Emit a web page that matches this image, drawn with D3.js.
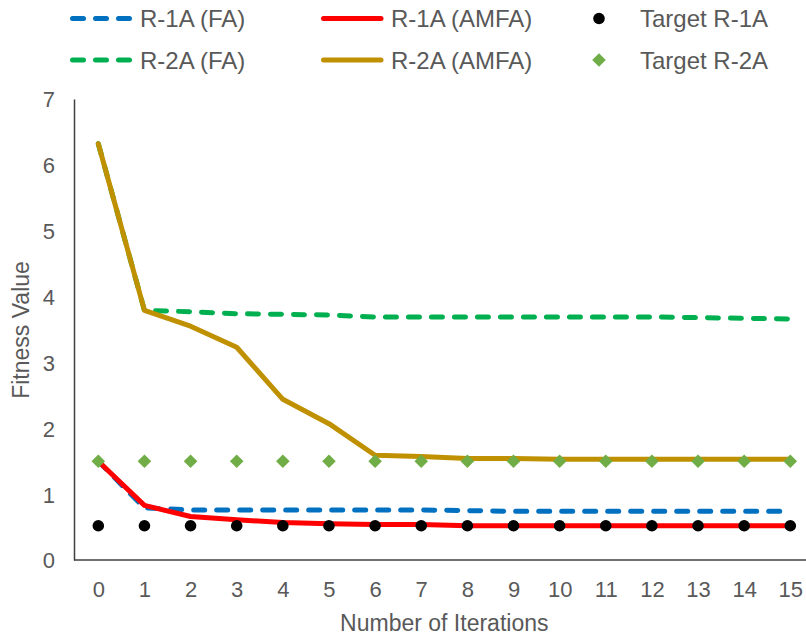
<!DOCTYPE html>
<html>
<head>
<meta charset="utf-8">
<script src="https://cdn.jsdelivr.net/npm/d3@7/dist/d3.min.js"></script>
<style>
  html, body { margin: 0; padding: 0; background: #fff; }
  svg { display: block; }
  text { font-family: "Liberation Sans", Arial, sans-serif; fill: #595959; }
</style>
</head>
<body>
<svg id="chart" width="806" height="636"></svg>
<script>
// Iteration index (x axis categories)
const iterations = d3.range(0, 16);
const yTicks = [0, 1, 2, 3, 4, 5, 6, 7];

// Fitness values per iteration
const r1aFA   = [1.50, 0.79, 0.76, 0.76, 0.76, 0.76, 0.76, 0.76, 0.75, 0.74, 0.74, 0.74, 0.74, 0.74, 0.74, 0.74];
const r1aAMFA = [1.50, 0.83, 0.66, 0.61, 0.57, 0.55, 0.54, 0.54, 0.52, 0.52, 0.52, 0.52, 0.52, 0.52, 0.52, 0.52];
const r2aFA   = [6.32, 3.79, 3.77, 3.74, 3.73, 3.72, 3.69, 3.69, 3.69, 3.69, 3.69, 3.69, 3.69, 3.68, 3.67, 3.66];
const r2aAMFA = [6.32, 3.79, 3.55, 3.23, 2.44, 2.07, 1.59, 1.57, 1.54, 1.54, 1.53, 1.53, 1.53, 1.53, 1.53, 1.53];
const targetR1A = [0.52, 0.52, 0.52, 0.52, 0.52, 0.52, 0.52, 0.52, 0.52, 0.52, 0.52, 0.52, 0.52, 0.52, 0.52, 0.52];
const targetR2A = [1.50, 1.50, 1.50, 1.50, 1.50, 1.50, 1.50, 1.50, 1.50, 1.50, 1.50, 1.50, 1.50, 1.50, 1.50, 1.50];

const svg = d3.select("#chart");

const x = d3.scaleLinear().domain([0, 15]).range([98.3, 790.3]);
const y = d3.scaleLinear().domain([0, 7]).range([560, 99]);
const axisLeft = 74;

const dash = "11,12";
const lineSeries = [
  { name: "R-1A (FA)",   values: r1aFA,   color: "#0070C0", dashed: true },
  { name: "R-1A (AMFA)", values: r1aAMFA, color: "#FF0000", dashed: false },
  { name: "R-2A (FA)",   values: r2aFA,   color: "#00B050", dashed: true },
  { name: "R-2A (AMFA)", values: r2aAMFA, color: "#BF9000", dashed: false }
];

const line = d3.line().x((d, i) => x(i)).y(d => y(d));

// FA under AMFA for each problem
lineSeries.forEach(s => {
  svg.append("path")
    .datum(s.values)
    .attr("d", line)
    .attr("fill", "none")
    .attr("stroke", s.color)
    .attr("stroke-width", 5)
    .attr("stroke-linejoin", "round")
    .attr("stroke-linecap", "round")
    .attr("stroke-dasharray", s.dashed ? dash : null);
});

// Target markers
svg.append("g").selectAll("circle")
  .data(targetR1A)
  .join("circle")
  .attr("cx", (d, i) => x(i))
  .attr("cy", d => y(d))
  .attr("r", 5.8)
  .attr("fill", "#000");

const diamond = (cx, cy, r) => `M${cx},${cy - r}L${cx + r},${cy}L${cx},${cy + r}L${cx - r},${cy}Z`;
svg.append("g").selectAll("path")
  .data(targetR2A)
  .join("path")
  .attr("d", (d, i) => diamond(x(i), y(d), 6.8))
  .attr("fill", "#70AD47");

// Axes
const yAxis = d3.axisLeft(y).tickValues(yTicks).tickFormat(d3.format("d")).tickSize(0).tickPadding(0);
const gy = svg.append("g").attr("transform", `translate(${axisLeft},0)`).call(yAxis);
gy.select(".domain").attr("stroke", "#404040").attr("stroke-width", 1.5);
gy.selectAll("text")
  .attr("x", -19)
  .attr("dy", "0.36em")
  .style("font-size", "22px")
  .attr("fill", "#595959");

const xAxis = d3.axisBottom(x).tickValues(iterations).tickFormat(d3.format("d")).tickSize(0).tickPadding(0);
const gx = svg.append("g").attr("transform", "translate(0,560)").call(xAxis);
gx.select(".domain").remove();
gx.selectAll("text")
  .attr("y", 29)
  .attr("dy", "0.36em")
  .style("font-size", "22px")
  .attr("fill", "#595959");
svg.append("line")
  .attr("x1", axisLeft).attr("x2", 806)
  .attr("y1", 560).attr("y2", 560)
  .attr("stroke", "#404040").attr("stroke-width", 1.5);

// Axis titles
svg.append("text")
  .attr("x", x(7.5)).attr("y", 631)
  .attr("text-anchor", "middle")
  .style("font-size", "23px")
  .text("Number of Iterations");

svg.append("text")
  .attr("transform", "translate(29,330) rotate(-90)")
  .attr("text-anchor", "middle")
  .style("font-size", "23px")
  .text("Fitness Value");

// Legend
const legend = svg.append("g");
const legendLines = [
  { s: lineSeries[0], x0: 70,  row: 0 },
  { s: lineSeries[1], x0: 321, row: 0 },
  { s: lineSeries[2], x0: 70,  row: 1 },
  { s: lineSeries[3], x0: 321, row: 1 }
];
const rowY = [18.5, 60];
legendLines.forEach(l => {
  const cy = rowY[l.row];
  legend.append("line")
    .attr("x1", l.x0 + 2.5).attr("x2", l.x0 + 60)
    .attr("y1", cy).attr("y2", cy)
    .attr("stroke", l.s.color)
    .attr("stroke-width", 5)
    .attr("stroke-linecap", "round")
    .attr("stroke-dasharray", l.s.dashed ? dash : null);
  legend.append("text")
    .attr("x", l.x0 + 70).attr("y", cy)
    .attr("dy", "0.36em")
    .style("font-size", "24px")
    .text(l.s.name);
});
legend.append("circle").attr("cx", 599).attr("cy", rowY[0]).attr("r", 5.8).attr("fill", "#000");
legend.append("text").attr("x", 640).attr("y", rowY[0]).attr("dy", "0.36em")
  .style("font-size", "24px").text("Target R-1A");
legend.append("path").attr("d", diamond(599, rowY[1], 6.8)).attr("fill", "#70AD47");
legend.append("text").attr("x", 640).attr("y", rowY[1]).attr("dy", "0.36em")
  .style("font-size", "24px").text("Target R-2A");
</script>
</body>
</html>
